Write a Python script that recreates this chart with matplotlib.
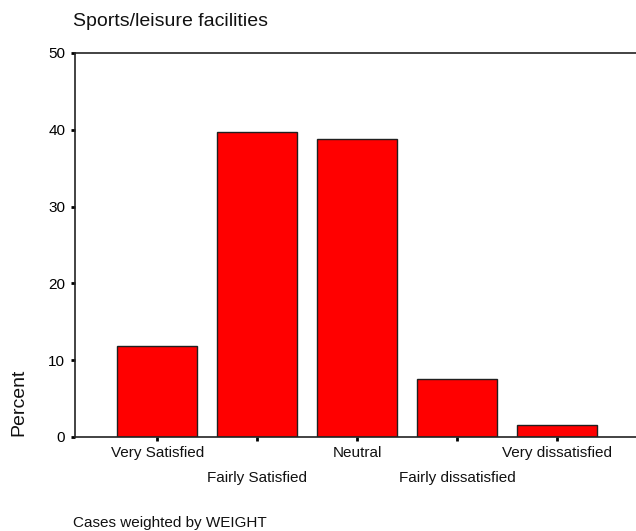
import matplotlib.pyplot as plt
import numpy as np

plt.rcParams['font.family'] = ['Liberation Sans', 'DejaVu Sans']

categories = ['Very Satisfied', 'Fairly Satisfied', 'Neutral',
              'Fairly dissatisfied', 'Very dissatisfied']
percent = [11.9, 39.7, 38.8, 7.6, 1.6]
y_ticks = [0, 10, 20, 30, 40, 50]

fig = plt.figure(figsize=(6.36, 5.31), dpi=100)
# axes: left edge x=75px, right edge past figure, y=50 at 53px, y=0 at 437px
ax = fig.add_axes([75 / 636, 1 - 437 / 531, 1 - 75 / 636 + 0.01, (437 - 53) / 531])

x = np.arange(len(categories))
ax.bar(x, percent, width=0.8, color='#ff0000', edgecolor='#202020', linewidth=1)

ax.set_xlim(-0.825, 4.85)
ax.set_ylim(0, 50)
ax.set_yticks(y_ticks)
ax.set_xticks(x)
ax.set_xticklabels([])

# staggered category labels
for i, name in enumerate(categories):
    dy = -16 if i % 2 == 0 else -41
    ax.annotate(name, (x[i], 0), xycoords='data', xytext=(0, dy),
                textcoords='offset pixels',
                ha='center', va='center', fontsize=11, color='#111111')

ax.tick_params(axis='y', direction='out', length=3, width=2, labelsize=11, pad=4)
ax.tick_params(axis='x', direction='out', length=3, width=2)
ax.spines['right'].set_visible(False)
for s in ['left', 'top', 'bottom']:
    ax.spines[s].set_linewidth(1.2)
    ax.spines[s].set_color('#222222')

fig.text(73 / 636, 1 - 22 / 531, 'Sports/leisure facilities', fontsize=14,
         ha='left', va='center', color='#111111')
fig.text(19 / 636, 1 - 402 / 531, 'Percent', fontsize=14, rotation=90,
         ha='center', va='center', color='#111111')
fig.text(73 / 636, 1 - 523 / 531, 'Cases weighted by WEIGHT', fontsize=11,
         ha='left', va='center', color='#111111')

fig.savefig('out.png', dpi=100)
